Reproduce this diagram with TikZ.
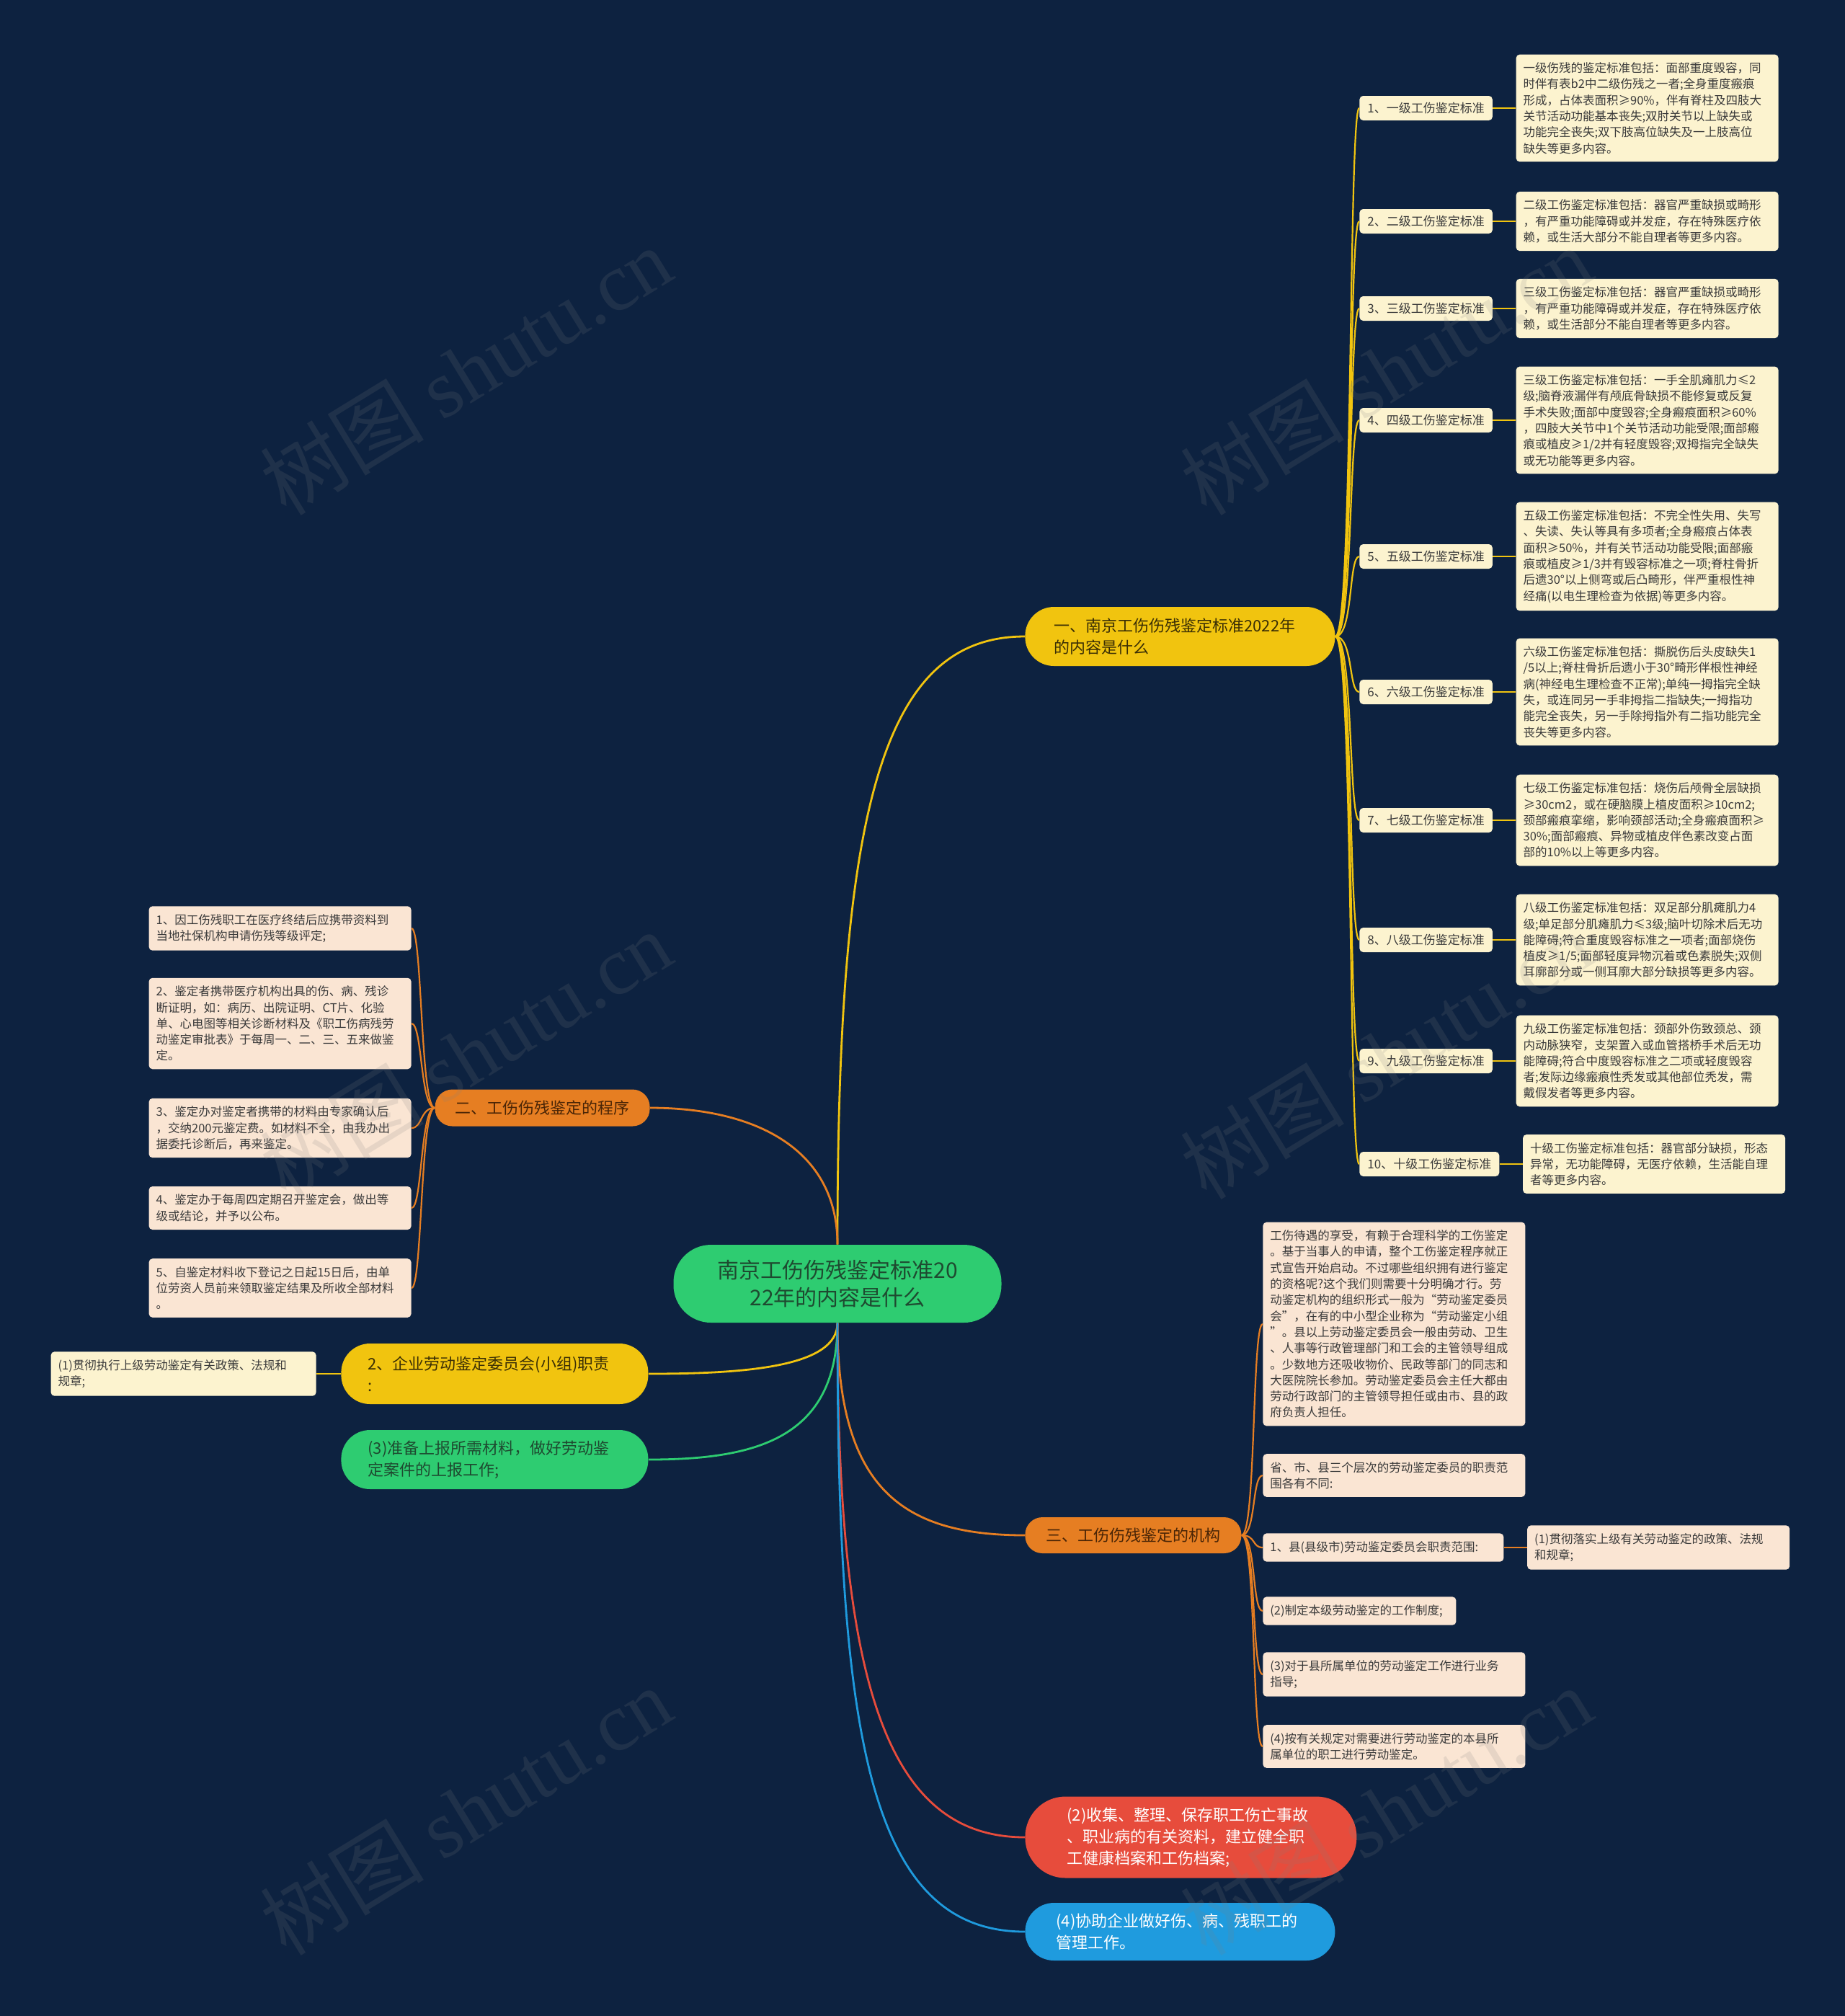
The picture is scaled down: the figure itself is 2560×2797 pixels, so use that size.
\documentclass[tikz,border=0pt]{standalone}
\usepackage{fontspec}
\setmainfont{Noto Sans CJK SC}
\newfontfamily\wmserif{Liberation Serif}
\usetikzlibrary{positioning}
\definecolor{navy}{HTML}{0D2240}
\definecolor{gold}{HTML}{F1C40F}
\definecolor{tang}{HTML}{E67E22}
\definecolor{leafy}{HTML}{2ECC71}
\definecolor{brick}{HTML}{E74C3C}
\definecolor{sky}{HTML}{1F9BDE}
\definecolor{cream}{HTML}{FCF3CF}
\definecolor{peach}{HTML}{FAE5D3}
\definecolor{ink}{HTML}{3A3A3A}
\definecolor{goldink}{HTML}{3B2F05}
\definecolor{tangink}{HTML}{4A2506}
\definecolor{leafink}{HTML}{1E4A30}

\begin{document}
\begin{tikzpicture}[x=0.5pt,y=-0.5pt,every node/.style={inner sep=0pt},
pill/.style={rounded corners=12pt,font=\fontsize{11}{15}\selectfont,align=left},
tag/.style={fill=cream,text=ink,rounded corners=2.5pt,font=\fontsize{8.5}{10}\selectfont,inner xsep=5.5pt,minimum height=17pt},
note/.style={rounded corners=2.5pt,text=ink,font=\fontsize{8.25}{11.15}\selectfont,align=left,text width=172pt,inner xsep=5pt,inner ysep=5.5pt},
wire/.style={line width=1.4pt},
twig/.style={line width=1.1pt},
wm/.style={rotate=31.5,text=gray,opacity=0.16,font=\fontsize{57}{57}\selectfont}]
\useasboundingbox (0,0) rectangle (2560,2797);
\fill[navy] (0,0) rectangle (2560,2797);

% root and main branches
\node[fill=leafy,text=leafink,rounded corners=26pt,minimum width=227.5pt,minimum height=54pt,align=center,font=\fontsize{15}{19}\selectfont] (r) at (1162,1781) {南京工伤伤残鉴定标准20\\22年的内容是什么};
\node[pill,fill=gold,text=goldink,anchor=west,text width=175pt,inner xsep=20pt,minimum height=41pt,rounded corners=20pt] (b1) at (1422,883) {一、南京工伤伤残鉴定标准2022年\\的内容是什么};
\node[pill,fill=tang,text=tangink,anchor=east,align=center,minimum width=149pt,minimum height=25.5pt] (b2) at (902,1537) {二、工伤伤残鉴定的程序};
\node[pill,fill=gold,text=goldink,anchor=west,text width=176pt,inner xsep=18.5pt,minimum height=42pt,rounded corners=20pt] (b3) at (473,1906) {2、企业劳动鉴定委员会(小组)职责\\:};
\node[pill,fill=leafy,text=leafink,anchor=west,text width=176pt,inner xsep=18.5pt,minimum height=41pt,rounded corners=20pt] (b4) at (473,2025) {(3)准备上报所需材料，做好劳动鉴\\定案件的上报工作;};
\node[pill,fill=tang,text=tangink,anchor=west,align=center,minimum width=150pt,minimum height=25pt] (b5) at (1422,2130) {三、工伤伤残鉴定的机构};
\node[pill,fill=brick,text=white,anchor=west,text width=172pt,inner xsep=29pt,minimum height=56.5pt,rounded corners=28pt] (b6) at (1422,2549) {(2)收集、整理、保存职工伤亡事故\\、职业病的有关资料，建立健全职\\工健康档案和工伤档案;};
\node[pill,fill=sky,text=white,anchor=west,text width=172pt,inner xsep=21.5pt,minimum height=40pt,rounded corners=20pt] (b7) at (1422,2680) {(4)协助企业做好伤、病、残职工的\\管理工作。};

% grades
\node[tag,anchor=west] (l1) at (1886,150) {1、一级工伤鉴定标准};
\node[tag,anchor=west] (l2) at (1886,307) {2、二级工伤鉴定标准};
\node[tag,anchor=west] (l3) at (1886,428) {3、三级工伤鉴定标准};
\node[tag,anchor=west] (l4) at (1886,583) {4、四级工伤鉴定标准};
\node[tag,anchor=west] (l5) at (1886,772) {5、五级工伤鉴定标准};
\node[tag,anchor=west] (l6) at (1886,960) {6、六级工伤鉴定标准};
\node[tag,anchor=west] (l7) at (1886,1138) {7、七级工伤鉴定标准};
\node[tag,anchor=west] (l8) at (1886,1304) {8、八级工伤鉴定标准};
\node[tag,anchor=west] (l9) at (1886,1472) {9、九级工伤鉴定标准};
\node[tag,anchor=west] (l10) at (1886,1615) {10、十级工伤鉴定标准};

\node[note,fill=cream,right=16pt of l1] (d1) {一级伤残的鉴定标准包括：面部重度毁容，同\\时伴有表b2中二级伤残之一者;全身重度瘢痕\\形成，占体表面积≥90\%，伴有脊柱及四肢大\\关节活动功能基本丧失;双肘关节以上缺失或\\功能完全丧失;双下肢高位缺失及一上肢高位\\缺失等更多内容。};
\node[note,fill=cream,right=16pt of l2] (d2) {二级工伤鉴定标准包括：器官严重缺损或畸形\\，有严重功能障碍或并发症，存在特殊医疗依\\赖，或生活大部分不能自理者等更多内容。};
\node[note,fill=cream,right=16pt of l3] (d3) {三级工伤鉴定标准包括：器官严重缺损或畸形\\，有严重功能障碍或并发症，存在特殊医疗依\\赖，或生活部分不能自理者等更多内容。};
\node[note,fill=cream,right=16pt of l4] (d4) {三级工伤鉴定标准包括：一手全肌瘫肌力≤2\\级;脑脊液漏伴有颅底骨缺损不能修复或反复\\手术失败;面部中度毁容;全身瘢痕面积≥60\%\\，四肢大关节中1个关节活动功能受限;面部瘢\\痕或植皮≥1/2并有轻度毁容;双拇指完全缺失\\或无功能等更多内容。};
\node[note,fill=cream,right=16pt of l5] (d5) {五级工伤鉴定标准包括：不完全性失用、失写\\、失读、失认等具有多项者;全身瘢痕占体表\\面积≥50\%，并有关节活动功能受限;面部瘢\\痕或植皮≥1/3并有毁容标准之一项;脊柱骨折\\后遗30°以上侧弯或后凸畸形，伴严重根性神\\经痛(以电生理检查为依据)等更多内容。};
\node[note,fill=cream,right=16pt of l6] (d6) {六级工伤鉴定标准包括：撕脱伤后头皮缺失1\\/5以上;脊柱骨折后遗小于30°畸形伴根性神经\\病(神经电生理检查不正常);单纯一拇指完全缺\\失，或连同另一手非拇指二指缺失;一拇指功\\能完全丧失，另一手除拇指外有二指功能完全\\丧失等更多内容。};
\node[note,fill=cream,right=16pt of l7] (d7) {七级工伤鉴定标准包括：烧伤后颅骨全层缺损\\≥30cm2，或在硬脑膜上植皮面积≥10cm2;\\颈部瘢痕挛缩，影响颈部活动;全身瘢痕面积≥\\30\%;面部瘢痕、异物或植皮伴色素改变占面\\部的10\%以上等更多内容。};
\node[note,fill=cream,right=16pt of l8] (d8) {八级工伤鉴定标准包括：双足部分肌瘫肌力4\\级;单足部分肌瘫肌力≤3级;脑叶切除术后无功\\能障碍;符合重度毁容标准之一项者;面部烧伤\\植皮≥1/5;面部轻度异物沉着或色素脱失;双侧\\耳廓部分或一侧耳廓大部分缺损等更多内容。};
\node[note,fill=cream,right=16pt of l9] (d9) {九级工伤鉴定标准包括：颈部外伤致颈总、颈\\内动脉狭窄，支架置入或血管搭桥手术后无功\\能障碍;符合中度毁容标准之二项或轻度毁容\\者;发际边缘瘢痕性秃发或其他部位秃发，需\\戴假发者等更多内容。};
\node[note,fill=cream,right=16pt of l10] (d10) {十级工伤鉴定标准包括：器官部分缺损，形态\\异常，无功能障碍，无医疗依赖，生活能自理\\者等更多内容。};

% procedure
\node[note,fill=peach,anchor=east] (p1) at (571,1288) {1、因工伤残职工在医疗终结后应携带资料到\\当地社保机构申请伤残等级评定;};
\node[note,fill=peach,anchor=east] (p2) at (571,1420) {2、鉴定者携带医疗机构出具的伤、病、残诊\\断证明，如：病历、出院证明、CT片、化验\\单、心电图等相关诊断材料及《职工伤病残劳\\动鉴定审批表》于每周一、二、三、五来做鉴\\定。};
\node[note,fill=peach,anchor=east] (p3) at (571,1565) {3、鉴定办对鉴定者携带的材料由专家确认后\\，交纳200元鉴定费。如材料不全，由我办出\\据委托诊断后，再来鉴定。};
\node[note,fill=peach,anchor=east] (p4) at (571,1676) {4、鉴定办于每周四定期召开鉴定会，做出等\\级或结论，并予以公布。};
\node[note,fill=peach,anchor=east] (p5) at (571,1787) {5、自鉴定材料收下登记之日起15日后，由单\\位劳资人员前来领取鉴定结果及所收全部材料\\。};

\node[note,fill=cream,text width=174pt,left=17pt of b3] (y1) {(1)贯彻执行上级劳动鉴定有关政策、法规和\\规章;};

% bodies
\node[note,fill=peach,anchor=west] (m1) at (1752,1837) {工伤待遇的享受，有赖于合理科学的工伤鉴定\\。基于当事人的申请，整个工伤鉴定程序就正\\式宣告开始启动。不过哪些组织拥有进行鉴定\\的资格呢?这个我们则需要十分明确才行。劳\\动鉴定机构的组织形式一般为“劳动鉴定委员\\会”，在有的中小型企业称为“劳动鉴定小组\\”。县以上劳动鉴定委员会一般由劳动、卫生\\、人事等行政管理部门和工会的主管领导组成\\。少数地方还吸收物价、民政等部门的同志和\\大医院院长参加。劳动鉴定委员会主任大都由\\劳动行政部门的主管领导担任或由市、县的政\\府负责人担任。};
\node[note,fill=peach,anchor=west] (m2) at (1752,2047) {省、市、县三个层次的劳动鉴定委员的职责范\\围各有不同:};
\node[note,fill=peach,text width=157pt,anchor=west] (m3) at (1752,2147) {1、县(县级市)劳动鉴定委员会职责范围:};
\node[note,fill=peach,right=16pt of m3] (m3a) {(1)贯彻落实上级有关劳动鉴定的政策、法规\\和规章;};
\node[note,fill=peach,text width=124pt,anchor=west] (m4) at (1752,2235) {(2)制定本级劳动鉴定的工作制度;};
\node[note,fill=peach,anchor=west] (m5) at (1752,2323) {(3)对于县所属单位的劳动鉴定工作进行业务\\指导;};
\node[note,fill=peach,anchor=west] (m6) at (1752,2423) {(4)按有关规定对需要进行劳动鉴定的本县所\\属单位的职工进行劳动鉴定。};

% links
\draw[wire,gold] (r.north) .. controls +(0,-600) and +(-200,0) .. (b1.west);
\draw[wire,tang] (r.north) .. controls +(0,-130) and +(150,0) .. (b2.east);
\draw[wire,gold] (r.south) .. controls +(0,60) and +(140,0) .. (b3.east);
\draw[wire,leafy] (r.south) .. controls +(0,160) and +(150,0) .. (b4.east);
\draw[wire,tang] (r.south) .. controls +(0,230) and +(-170,0) .. (b5.west);
\draw[wire,brick] (r.south) .. controls +(0,480) and +(-200,0) .. (b6.west);
\draw[wire,sky] (r.south) .. controls +(0,560) and +(-220,0) .. (b7.west);

\foreach \i in {1,...,10}{
  \draw[twig,gold] (b1.east) .. controls +(25,0) and +(-15,0) .. (l\i.west);
  \draw[twig,gold] (l\i.east) -- (d\i.west);
}
\foreach \i in {1,...,5}
  \draw[twig,tang] (b2.west) .. controls +(-20,0) and +(15,0) .. (p\i.east);
\draw[twig,gold] (b3.west) -- (y1.east);
\foreach \i in {1,...,6}
  \draw[twig,tang] (b5.east) .. controls +(20,0) and +(-15,0) .. (m\i.west);
\draw[twig,tang] (m3.east) -- (m3a.west);

% watermark
\foreach \wx in {646,1923}
  \foreach \wy in {514,1463,2512}
    \node[wm] (w\wx\wy) at (\wx,\wy) {树图 {\wmserif shutu.cn}};
\end{tikzpicture}
\end{document}
